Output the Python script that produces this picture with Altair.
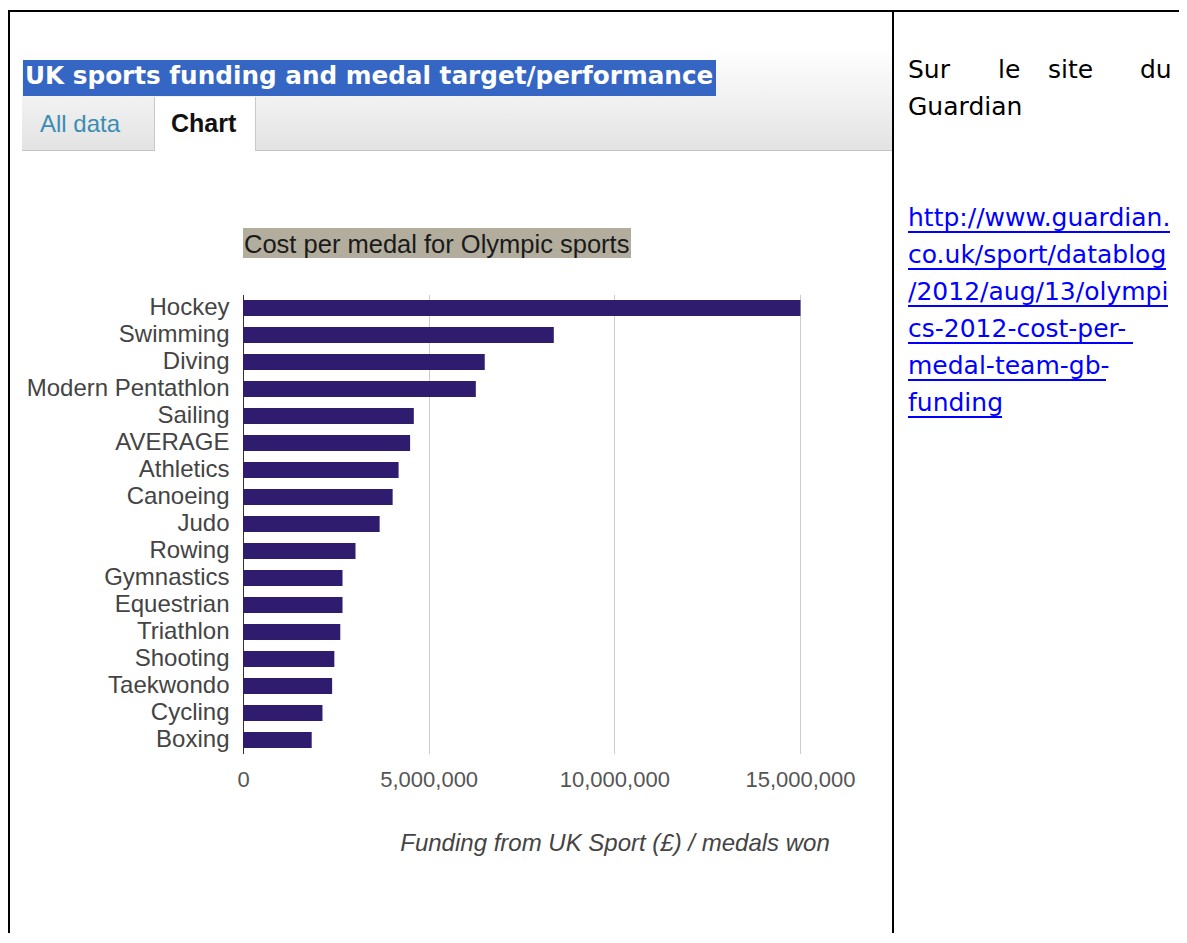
import altair as alt
import pandas as pd

# ---- data ----
sports = ["Hockey", "Swimming", "Diving", "Modern Pentathlon", "Sailing", "AVERAGE",
          "Athletics", "Canoeing", "Judo", "Rowing", "Gymnastics", "Equestrian",
          "Triathlon", "Shooting", "Taekwondo", "Cycling", "Boxing"]
cost_per_medal = [15013200, 8370000, 6510000, 6270000, 4600000, 4500000,
                  4190000, 4030000, 3680000, 3030000, 2680000, 2680000,
                  2620000, 2460000, 2400000, 2140000, 1850000]
x_ticks = [0, 5000000, 10000000, 15000000]

page_title = "UK sports funding and medal target/performance"
tab_labels = ["All data", "Chart"]
chart_title = "Cost per medal for Olympic sports"
x_title = "Funding from UK Sport (£) / medals won"
side_words = ["Sur", "le", "site", "du"]
side_line2 = "Guardian"
url_lines = ["http://www.guardian.", "co.uk/sport/datablog", "/2012/aug/13/olympi",
             "cs-2012-cost-per-", "medal-team-gb-", "funding"]

df = pd.DataFrame({"sport": sports, "cost": cost_per_medal})
one = pd.DataFrame({"k": [0]})

# plot-area origin on the page
OX, OY = 243, 294.5
W, H = 557, 459
TOTAL_W, TOTAL_H = 1171, 925


def px(X):
    return X - OX


def py(Y):
    return Y - OY


def txt(s, X, Y, size, color, font="Liberation Sans", weight="normal", style="normal", align="left"):
    return alt.Chart(one).mark_text(
        text=s, fontSize=size, color=color, font=font, fontWeight=weight,
        fontStyle=style, align=align, baseline="alphabetic"
    ).encode(x=alt.value(px(X)), y=alt.value(py(Y)))


def rect(X1, X2, Y1, Y2, color):
    return alt.Chart(one).mark_rect(color=color).encode(
        x=alt.value(px(X1)), x2=alt.value(px(X2)), y=alt.value(py(Y1)), y2=alt.value(py(Y2)))


def hline(X1, X2, Y, color, w=1):
    return alt.Chart(one).mark_rule(color=color, strokeWidth=w).encode(
        x=alt.value(px(X1)), x2=alt.value(px(X2)), y=alt.value(py(Y)))


def vline(X, Y1, Y2, color, w=1):
    return alt.Chart(one).mark_rule(color=color, strokeWidth=w).encode(
        x=alt.value(px(X)), y=alt.value(py(Y1)), y2=alt.value(py(Y2)))


grad = alt.LinearGradient(
    gradient="linear", x1=0, x2=0, y1=0, y2=1,
    stops=[alt.GradientStop(color="#ffffff", offset=0),
           alt.GradientStop(color="#e3e3e3", offset=1)])

header_bg = alt.Chart(one).mark_rect(color=grad).encode(
    x=alt.value(px(22)), x2=alt.value(px(893)), y=alt.value(py(48)), y2=alt.value(py(150)))

layers = [
    header_bg,
    hline(22, 893, 150.5, "#c4c4c4"),
    rect(154, 255, 97, 152, "#ffffff"),
    vline(154.5, 97, 151, "#c8c8c8"),
    vline(255.5, 97, 151, "#c8c8c8"),
    rect(23, 716, 60, 96, "#3566c4"),
    txt(page_title, 25, 84, 24.7, "#ffffff", font="DejaVu Sans", weight="bold"),
    txt(tab_labels[0], 40, 132, 24, "#3a8db3"),
    txt(tab_labels[1], 171, 132, 25, "#111111", weight="bold"),
    rect(243, 631, 228, 258, "#b3ad9e"),
    txt(chart_title, 244, 253, 25.5, "#1a1a1a"),
]

bars = alt.Chart(df).mark_bar(color="#2f1c6e").encode(
    x=alt.X("cost:Q",
            scale=alt.Scale(domain=[0, 15000000], nice=False),
            axis=alt.Axis(values=x_ticks, format=",d", title=None, domain=False,
                          ticks=False, tickSize=0, labelPadding=16, labelFontSize=22,
                          labelColor="#555555", grid=True, gridColor="#cccccc",
                          labelFlush=False, labelOverlap=False,
                          labelFont="Liberation Sans")),
    y=alt.Y("sport:N", sort=sports,
            scale=alt.Scale(paddingInner=0.4, paddingOuter=0.2),
            axis=alt.Axis(title=None, ticks=False, tickSize=0, labelPadding=14,
                          labelFontSize=24, labelColor="#444444", domain=True,
                          domainColor="#333333", domainWidth=1, grid=False,
                          labelLimit=400, labelFont="Liberation Sans")),
)
layers.append(bars)

layers.append(txt(x_title, 615, 851, 24, "#444444", style="italic", align="center"))

# right cell
side_font = "Comic Sans MS, DejaVu Sans"
for word, X in zip(side_words, [908, 998, 1048, 1140]):
    layers.append(txt(word, X, 78, 25, "#000000", font=side_font))
layers.append(txt(side_line2, 908, 115, 25, "#000000", font=side_font))

url_ends = [1170, 1166, 1168, 1133, 1106, 1002]
for i, (line, xe) in enumerate(zip(url_lines, url_ends)):
    base = 226 + 37 * i
    layers.append(txt(line, 908, base, 25, "#0000ff", font=side_font))
    layers.append(hline(908, xe, base + 6, "#0000ff", 2))

# table borders
layers += [
    hline(8, 1190, 11, "#000000", 2),
    vline(9, 10, 950, "#000000", 2),
    vline(893, 10, 950, "#000000", 2),
]

chart = alt.layer(*layers).properties(
    width=W, height=H,
    padding={"left": 235, "top": 286.5, "right": TOTAL_W - 235 - W,
             "bottom": TOTAL_H - 286.5 - H},
    autosize=alt.AutoSizeParams(type="none"),
    background="#ffffff",
).configure_view(strokeWidth=0)

chart.save("out.html", embed_options={"renderer": "svg", "actions": False})
